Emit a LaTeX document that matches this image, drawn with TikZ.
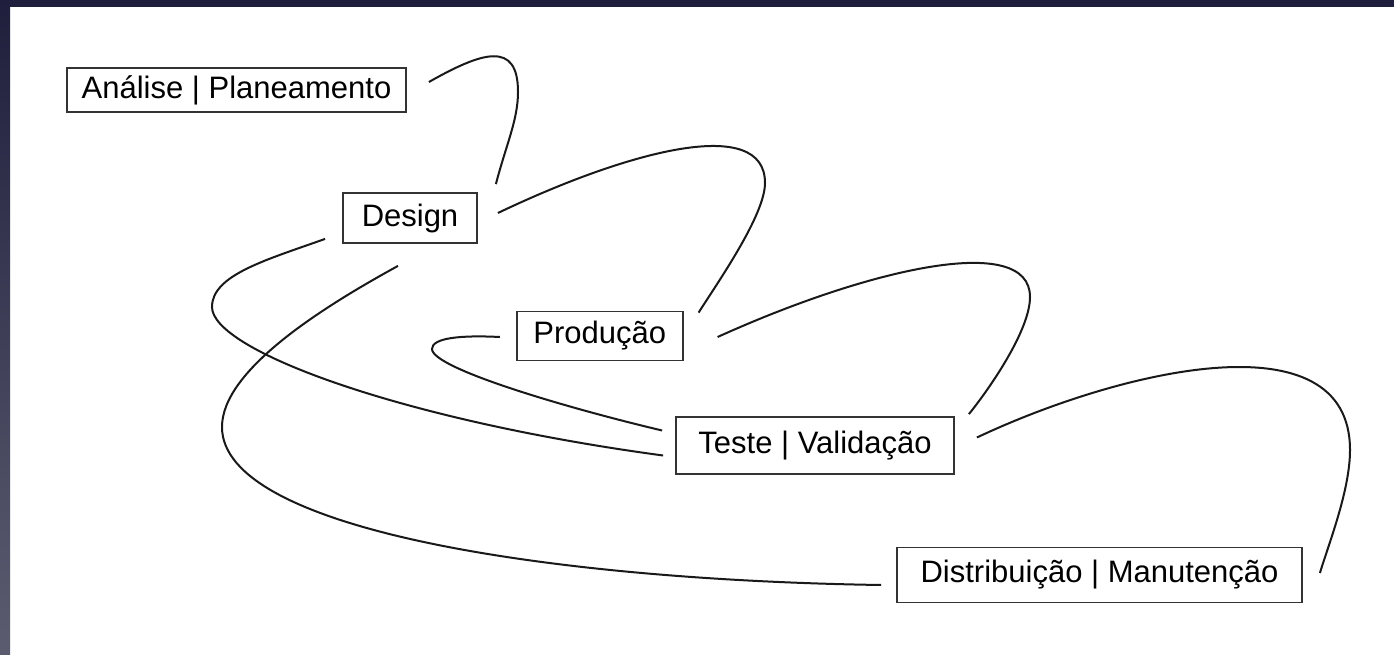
\documentclass[tikz,border=0pt]{standalone}
\usepackage{fontspec}
\setmainfont{Liberation Sans}
\usepackage{tikz}
\usetikzlibrary{calc}
\definecolor{slidenavy}{HTML}{1F1F3D}
\definecolor{slidegrey}{HTML}{5C5C70}
\tikzset{
stage/.style={draw=black!80,line width=1.8pt,inner sep=0pt,text=black,font=\fontsize{31}{37}\selectfont},
swirl/.style={draw=black!90,line width=2pt}
}

\begin{document}
\begin{tikzpicture}[x=1pt,y=-1pt]
\useasboundingbox (0,0) rectangle (1394,655);
\fill [white] (0,0) rectangle (1394,655);
\fill [slidenavy] (0,0) rectangle (1394,7);
\shade [top color=slidenavy,bottom color=slidegrey] (0,0) rectangle (10,655);
\node [stage,minimum width=339pt,minimum height=44pt] (ana) at (236.5,90) {Análise | Planeamento};
\node [stage,minimum width=134pt,minimum height=50pt] (design) at (410,218) {Design};
\node [stage,minimum width=166pt,minimum height=49pt] (prod) at (599.7,336) {Produção};
\node [stage,minimum width=278pt,minimum height=57pt] (teste) at (815,445.5) {Teste | Validação};
\node [stage,minimum width=405pt,minimum height=55pt] (dist) at (1099.5,575) {Distribuição | Manutenção};
\draw [swirl]
($(ana.east)+(22,-8)$) .. controls (482,52) and (518,40) .. (518,92)
.. controls (518,120) and (506,145) .. ($(design.north east)+(18,-8)$);
\draw [swirl]
($(design.east)+(20,-5)$) .. controls (630,150) and (765,115) .. (765,183)
.. controls (765,215) and (718,282) .. ($(prod.north east)+(15,2)$);
\draw [swirl]
($(design.south west)+(-17,-5)$) .. controls (266,260) and (212,275) .. (212,307)
.. controls (212,350) and (400,420) .. ($(teste.west)+(-12,10)$);
\draw [swirl]
($(design.south)+(-12,22)$) .. controls (323,307) and (222,370) .. (222,427)
.. controls (222,530) and (550,580) .. ($(dist.west)+(-15,10)$);
\draw [swirl]
($(prod.west)+(-16,1)$) .. controls (460,335) and (432,338) .. (432,349)
.. controls (432,368) and (563,407) .. ($(teste.west)+(-13,-15)$);
\draw [swirl]
($(prod.east)+(34,1)$) .. controls (870,268) and (1030,232) .. (1030,297)
.. controls (1030,330) and (990,388) .. ($(teste.north east)+(14,-2)$);
\draw [swirl]
($(teste.east)+(22,-8)$) .. controls (1120,370) and (1350,315) .. (1350,450)
.. controls (1350,490) and (1329,543) .. ($(dist.east)+(17,-2)$);
\end{tikzpicture}
\end{document}
